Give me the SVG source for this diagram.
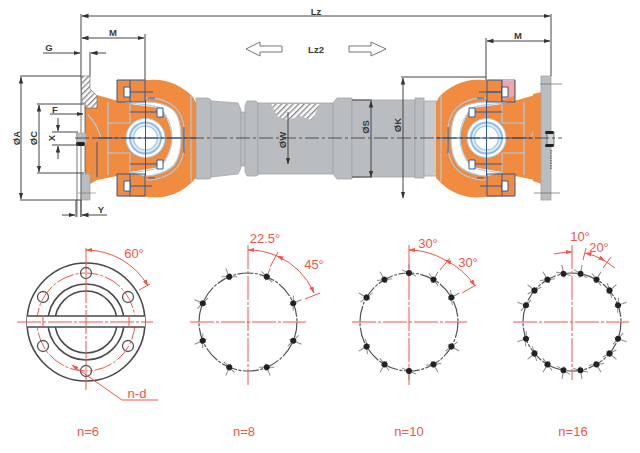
<svg xmlns="http://www.w3.org/2000/svg" xmlns:xlink="http://www.w3.org/1999/xlink" width="640" height="453" viewBox="0 0 640 453">
<style>
.dim{fill:none;stroke:#444;stroke-width:1}
.lb{font-family:"Liberation Sans",Arial,sans-serif;font-weight:bold;font-size:9.5px;fill:#3a3a3a;text-anchor:middle}
.rt{font-family:"Liberation Sans",Arial,sans-serif;font-size:13px;fill:#f2554a;text-anchor:middle}
.rd{fill:none;stroke:#f2554a;stroke-width:1}
.rc{fill:none;stroke:#f2554a;stroke-width:1;stroke-dasharray:24 2 3 2}
.bl{fill:none;stroke:#2c5a9c;stroke-width:1}
.lbl{fill:none;stroke:#a6cfee;stroke-width:1.1}
.or{fill:#f08b40}
.gr{fill:#babdbf;stroke:#a2a5a8;stroke-width:.8}
.pcd{fill:none;stroke:#555;stroke-width:1.2;stroke-dasharray:16 1.5 3 1.5}
.dk{fill:none;stroke:#4a4a4a;stroke-width:1.6}
</style>
<defs>
<marker id="a" markerWidth="7" markerHeight="6" refX="6.5" refY="3" orient="auto-start-reverse" markerUnits="userSpaceOnUse"><path d="M0 .8L7 3L0 5.2z" fill="#333"/></marker>
<marker id="r" markerWidth="7" markerHeight="6" refX="6.5" refY="3" orient="auto-start-reverse" markerUnits="userSpaceOnUse"><path d="M0 .8L7 3L0 5.2z" fill="#f2554a"/></marker>
<pattern id="h" width="4" height="4" patternUnits="userSpaceOnUse" patternTransform="rotate(45)"><rect width="4" height="4" fill="#fff"/><rect width="1.4" height="4" fill="#8b8b8b"/></pattern>
<g id="yoke">
<path class="or" d="M97 95L118 101L130 103L130 174L117 176L97 180L90 184L85 178V108H97z"/>
<path class="or" d="M117 80H150C165 78 182 85 193 97L196 103V178L190 184C180 193 165 199 150 197L117 196V174L145 174L145 102H117z"/>
<path class="or" d="M130 103H150V175H130z"/>
<path d="M145 102C155 102 168 104 175 112C180 119 181 128 181 138C181 150 179 158 174 165C167 172 155 176 145 176L130 172L160 167C166 160 171 150 172 138C171 126 166 115 160 108L130 104z" fill="#fff"/>
<path class="lbl" d="M130 103C145 105 155 105 160 108C167 115 172 126 172 138C172 150 167 160 160 167C155 170 145 171 130 173"/>
<path class="lbl" d="M145 98C160 97 175 103 181 116C184 124 185 130 185 138C185 148 184 155 180 163C173 175 160 180 145 180"/>
<path class="lbl" d="M145 102C155 102 168 104 175 112C180 119 181 128 181 138C181 150 179 158 174 165C167 172 155 176 145 176"/>
<path class="lbl" d="M108 102V175M130 104V123M130 153V173M108 123H130M108 153H130M191 96V182"/>
<path d="M88 115C93 120 98 128 101 138" class="lbl"/>
<circle cx="145.500" cy="138" r="19.500" fill="#fff" stroke="#a6cfee" stroke-width="1"/>
<circle cx="145.500" cy="138" r="15.500" fill="#e3eff9" stroke="#8fbce6" stroke-width="2"/>
<circle cx="145.500" cy="138" r="12" fill="#fff" stroke="#a9cbec" stroke-width="1.500"/>
<path class="bl" d="M117 80H145V102H117zM117 174H145V196H117zM130 80V102M130 174V196M125 92H153M125 186H152M148 98H155M148 178H155M130 112H163M130 164H163M184 127V153M97 142V177"/>
<path d="M124 87h6v10h-6zM124 181h6v10h-6zM157 108h6v9h-6zM157 160h6v9h-6z" fill="#fff" stroke="#2c5a9c"/>
<path class="bl" d="M95 138H196M145.500 100V176"/>
</g>
<g id="b"><path d="M0 -58V-45M-7 -52L7 -46" stroke="#8a8a8a" stroke-width="1" fill="none"/><circle cy="-49" r="3" fill="#222"/></g>
</defs>
<rect width="640" height="453" fill="#fff"/>

<g id="shaft">
<path class="gr" d="M196 98H208L211 100V178L208 179H196z"/>
<path class="gr" d="M211 101L238 103L241 110V168L238 174L211 177z"/>
<path class="gr" d="M241 112H245V166H241z"/>
<path class="gr" d="M247 101H256L258 103V175L256 176H247L245 172V106z"/>
<rect class="gr" x="258" y="103" width="75" height="71"/>
<path class="gr" d="M333 103L337 98H352V179H337L333 174z"/>
<rect class="gr" x="352" y="100" width="63" height="77"/>
<rect class="gr" x="415" y="98" width="9" height="80"/>
<rect x="424" y="101" width="13" height="75" fill="#c8cbcd" stroke="#a2a5a8" stroke-width=".8"/>
<path d="M271 104H320L312 120L300 116L288 120L277 116z" fill="url(#h)"/>
</g>

<g id="left-yoke"><use xlink:href="#yoke" href="#yoke"/></g>
<g id="right-yoke"><use xlink:href="#yoke" href="#yoke" transform="matrix(-1 0 0 1 632 0)"/>
<path class="or" d="M533 94L542 92V184L533 181z"/>
<path d="M502 80H514V96L502 100z" fill="#f4a3ab"/>
<path d="M502 80H514" stroke="#a6cfee" fill="none"/>
<path class="bl" d="M502 80V102M487 92H508"/>
<path d="M502 87h6v10h-6z" fill="#fff" stroke="#2c5a9c"/>
</g>

<g id="left-flange">
<path d="M81 76H90V89L97 96V108H85V103H82z" fill="url(#h)" stroke="#666" stroke-width=".6"/>
<rect x="81" y="104" width="4" height="70" fill="#fff"/>
<path class="gr" d="M81 174H90V200H81z"/>
<path d="M77 133V217M81 76V217M85 104V173" fill="none" stroke="#555" stroke-width=".8"/>
<rect class="gr" x="77" y="133" width="9" height="12"/>
<rect x="76" y="142" width="9" height="4" rx="2" fill="#222"/>
<path d="M78 193H96" stroke="#777" stroke-width=".6"/>
</g>
<g id="right-flange">
<rect class="gr" x="541" y="76" width="10" height="124"/>
<rect x="547" y="132" width="7" height="13" fill="#cfd1d3" stroke="#444" stroke-width=".6"/>
<rect x="545" y="131" width="9" height="3" rx="1.500" fill="#222"/>
<rect x="545" y="144" width="9" height="3" rx="1.500" fill="#222"/>
<path d="M540 84H562M534 193H560" stroke="#666" stroke-width=".7"/>
<path d="M551 150V170" stroke="#444" stroke-width="1" stroke-dasharray="1.500 1"/>
</g>

<g id="connectors">
<path d="M75 138H562" fill="none" stroke="#333" stroke-width=".8" stroke-dasharray="14 3 3 3"/>
<g class="dim">
<path d="M81 14V76M551 14V76M145 34V80M486 38V80M90 52V76M20 76H81M20 200H81M37 104H84M37 173H84M52 132H78M52 145H78M76 200V217M81 200V217M401 77H486M352 100H372M352 177H372"/>
<path marker-start="url(#a)" marker-end="url(#a)" d="M82 16H550"/>
<path marker-start="url(#a)" marker-end="url(#a)" d="M82 38H144"/>
<path marker-start="url(#a)" marker-end="url(#a)" d="M487 41H550"/>
<path marker-start="url(#a)" marker-end="url(#a)" d="M21 77V199"/>
<path marker-start="url(#a)" marker-end="url(#a)" d="M39 105V172"/>
<path marker-start="url(#a)" marker-end="url(#a)" d="M403 78V198"/>
<path marker-start="url(#a)" marker-end="url(#a)" d="M371 101V177"/>
<path marker-end="url(#a)" d="M288 112V164"/>
<path marker-end="url(#a)" d="M43 53H80"/>
<path marker-end="url(#a)" d="M106 53H91"/>
<path marker-end="url(#a)" d="M50 114H83"/>
<path marker-end="url(#a)" d="M58 118V131"/>
<path marker-end="url(#a)" d="M58 159V146"/>
<path marker-end="url(#a)" d="M62 215H75"/>
<path marker-end="url(#a)" d="M107 215H82"/>
</g>
<path d="M246 49L260 42V46H282V52H260V56z" fill="#fff" stroke="#777" stroke-width="1"/>
<path d="M349 46H371V42L386 49L371 56V52H349z" fill="#fff" stroke="#777" stroke-width="1"/>
</g>

<g id="top-labels">
<text class="lb" x="316" y="15">Lz</text><text class="lb" x="316" y="53">Lz2</text>
<text class="lb" x="113" y="36">M</text><text class="lb" x="518" y="39">M</text>
<text class="lb" x="49" y="51">G</text><text class="lb" x="55" y="113">F</text><text class="lb" x="101" y="213">Y</text>
<text class="lb" transform="translate(20 138) rotate(-90)">ØA</text>
<text class="lb" transform="translate(37 138) rotate(-90)">ØC</text>
<text class="lb" transform="translate(55 138) rotate(-90)">X</text>
<text class="lb" transform="translate(286 140) rotate(-90)">ØW</text>
<text class="lb" transform="translate(369 127) rotate(-90)">ØS</text>
<text class="lb" transform="translate(401 125) rotate(-90)">ØK</text>
</g>

<g id="n6">
<circle class="dk" cx="86" cy="322" r="59"/>
<circle cx="86" cy="322" r="49" fill="none" stroke="#f2554a" stroke-dasharray="18 2 3 2"/>
<circle class="dk" cx="86" cy="322" r="38"/><circle class="dk" cx="86" cy="322" r="31"/>
<path d="M27 316H145V327H27z" fill="#fff"/>
<path class="dk" d="M27 316H145M27 327H145"/>
<path class="rc" d="M17 322H153M86 248V390"/>
<path class="rd" d="M43 316V327M129 316V327"/>
<g fill="none" stroke="#555" stroke-width="1.300">
<circle cx="86" cy="273" r="5.500"/><circle cx="86" cy="371" r="5.500"/><circle cx="43" cy="297" r="5.500"/><circle cx="128" cy="297" r="5.500"/><circle cx="43" cy="346" r="5.500"/><circle cx="128" cy="346" r="5.500"/></g>
<path class="rd" marker-start="url(#r)" marker-end="url(#r)" d="M86 250A72 72 0 0 1 148 286"/>
<path class="rd" d="M139 290L150 284"/>
<path class="rd" marker-start="url(#r)" d="M72 365L122 400H158"/>
<text class="rt" x="134" y="258">60°</text><text class="rt" x="137" y="398">n-d</text><text class="rt" x="88" y="436">n=6</text>
</g>

<g id="n8">
<circle class="pcd" cx="248" cy="322" r="49"/>
<path class="rc" d="M190 322H306M248 245V385"/>
<g transform="translate(248 322)"><use href="#b" xlink:href="#b" transform="rotate(22.500)"/><use href="#b" xlink:href="#b" transform="rotate(67.500)"/><use href="#b" xlink:href="#b" transform="rotate(112.500)"/><use href="#b" xlink:href="#b" transform="rotate(157.500)"/><use href="#b" xlink:href="#b" transform="rotate(202.500)"/><use href="#b" xlink:href="#b" transform="rotate(247.500)"/><use href="#b" xlink:href="#b" transform="rotate(292.500)"/><use href="#b" xlink:href="#b" transform="rotate(337.500)"/></g>
<path class="rd" marker-start="url(#r)" d="M248 250A72 72 0 0 1 277 256"/>
<path class="rd" marker-start="url(#r)" marker-end="url(#r)" d="M277 256A72 72 0 0 1 314 293"/>
<path class="rd" d="M270 267L278 252M305 299L320 293"/>
<text class="rt" x="265" y="243">22.5°</text><text class="rt" x="314" y="269">45°</text><text class="rt" x="244" y="436">n=8</text>
</g>

<g id="n10">
<circle class="pcd" cx="409" cy="322" r="49"/>
<path class="rc" d="M352 322H467M409 245V385"/>
<g transform="translate(409 322)"><use href="#b" xlink:href="#b"/><use href="#b" xlink:href="#b" transform="rotate(30)"/><use href="#b" xlink:href="#b" transform="rotate(60)"/><use href="#b" xlink:href="#b" transform="rotate(120)"/><use href="#b" xlink:href="#b" transform="rotate(150)"/><use href="#b" xlink:href="#b" transform="rotate(180)"/><use href="#b" xlink:href="#b" transform="rotate(210)"/><use href="#b" xlink:href="#b" transform="rotate(240)"/><use href="#b" xlink:href="#b" transform="rotate(300)"/><use href="#b" xlink:href="#b" transform="rotate(330)"/></g>
<path class="rd" marker-start="url(#r)" d="M409 250A72 72 0 0 1 445 260"/>
<path class="rd" marker-start="url(#r)" marker-end="url(#r)" d="M445 260A74 74 0 0 1 475 286"/>
<path class="rd" d="M440 270L450 258M462 293L476 285"/>
<text class="rt" x="428" y="248">30°</text><text class="rt" x="468" y="267">30°</text><text class="rt" x="409" y="436">n=10</text>
</g>

<g id="n16">
<circle class="pcd" cx="572" cy="322" r="49"/>
<path class="rc" d="M513 322H629M572 245V380"/>
<g transform="translate(572 322)"><use href="#b" xlink:href="#b" transform="rotate(10)"/><use href="#b" xlink:href="#b" transform="rotate(30)"/><use href="#b" xlink:href="#b" transform="rotate(50)"/><use href="#b" xlink:href="#b" transform="rotate(70)"/><use href="#b" xlink:href="#b" transform="rotate(110)"/><use href="#b" xlink:href="#b" transform="rotate(130)"/><use href="#b" xlink:href="#b" transform="rotate(150)"/><use href="#b" xlink:href="#b" transform="rotate(170)"/><use href="#b" xlink:href="#b" transform="rotate(190)"/><use href="#b" xlink:href="#b" transform="rotate(210)"/><use href="#b" xlink:href="#b" transform="rotate(230)"/><use href="#b" xlink:href="#b" transform="rotate(250)"/><use href="#b" xlink:href="#b" transform="rotate(290)"/><use href="#b" xlink:href="#b" transform="rotate(310)"/><use href="#b" xlink:href="#b" transform="rotate(330)"/><use href="#b" xlink:href="#b" transform="rotate(350)"/></g>
<path class="rd" marker-end="url(#r)" d="M554 254Q563 252 572 252"/>
<path class="rd" marker-start="url(#r)" marker-end="url(#r)" d="M585 253Q595 255 605 261"/>
<path class="rd" d="M605 261L615 268M583 260L586 248M603 268L611 257"/>
<text class="rt" x="580" y="241">10°</text><text class="rt" x="599" y="252">20°</text><text class="rt" x="573" y="436">n=16</text>
</g>
</svg>
